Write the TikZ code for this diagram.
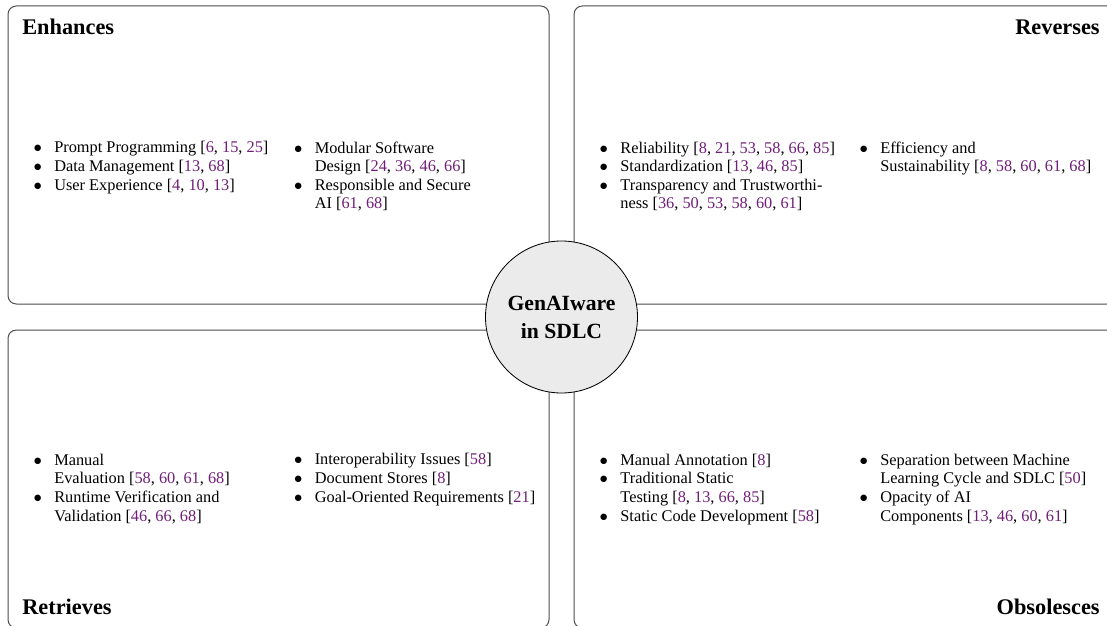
\documentclass[tikz,border=0pt]{standalone}
\usepackage{fontspec}
\setmainfont{Liberation Serif}
\usepackage{xcolor}
\usetikzlibrary{positioning}
\definecolor{citepurple}{RGB}{112,30,120}
\newcommand{\rf}[1]{\textcolor{citepurple}{#1}}
\newcommand{\itm}{\makebox[12.4pt][l]{$\bullet$}}
\newcommand{\cnt}{\hspace*{12.4pt}}

\begin{document}
\begin{tikzpicture}[x=0.6pt,y=-0.6pt,
    quad/.style={draw=black!70, line width=0.6pt, rounded corners=5pt},
    hub/.style={draw, circle, fill=black!8, line width=0.5pt, minimum size=91.2pt, inner sep=0pt, align=center, font=\fontsize{13}{16.8}\selectfont\bfseries},
    heading/.style={inner sep=0pt, font=\fontsize{13.4}{16}\selectfont\bfseries},
    items/.style={inner sep=0pt, align=left, anchor=base west, font=\fontsize{9.8}{11.2}\selectfont}]
        \useasboundingbox (0,0) rectangle (1107,626);
        \clip (0,0) rectangle (1107,626);
        % quadrants
        \draw[quad] (8,6) rectangle (549,304);
        \draw[quad] (574,6) rectangle (1115,304);
        \draw[quad] (8,330) rectangle (549,628);
        \draw[quad] (574,330) rectangle (1115,628);

        \node[heading, anchor=base west] (enh) at (22,35) {Enhances};
        \node[heading, anchor=base east] (rev) at (1100,35) {Reverses};
        \node[heading, anchor=base west] (ret) at (22,614) {Retrieves};
        \node[heading, anchor=base east] (obs) at (1100,614) {Obsolesces};

        % enhances (base = last line)
        \node[items] (enhA) at (33.3,190.3) {\itm Prompt Programming [\rf{6}, \rf{15}, \rf{25}]\\
            \itm Data Management [\rf{13}, \rf{68}]\\
            \itm User Experience [\rf{4}, \rf{10}, \rf{13}]};
        \node[items] (enhB) at (293.8,209) {\itm Modular Software\\
            \cnt Design [\rf{24}, \rf{36}, \rf{46}, \rf{66}]\\
            \itm Responsible and Secure\\
            \cnt AI [\rf{61}, \rf{68}]};

        % reverses
        \node[items] (revA) at (599.4,209) {\itm Reliability [\rf{8}, \rf{21}, \rf{53}, \rf{58}, \rf{66}, \rf{85}]\\
            \itm Standardization [\rf{13}, \rf{46}, \rf{85}]\\
            \itm Transparency and Trustworthi-\\
            \cnt ness [\rf{36}, \rf{50}, \rf{53}, \rf{58}, \rf{60}, \rf{61}]};
        \node[items] (revB) at (859.3,171.7) {\itm Efficiency and\\
            \cnt Sustainability [\rf{8}, \rf{58}, \rf{60}, \rf{61}, \rf{68}]};

        % retrieves
        \node[items] (retA) at (33.3,521) {\itm Manual\\
            \cnt Evaluation [\rf{58}, \rf{60}, \rf{61}, \rf{68}]\\
            \itm Runtime Verification and\\
            \cnt Validation [\rf{46}, \rf{66}, \rf{68}]};
        \node[items] (retB) at (293.8,502.3) {\itm Interoperability Issues [\rf{58}]\\
            \itm Document Stores [\rf{8}]\\
            \itm Goal-Oriented Requirements [\rf{21}]};

        % obsolesces
        \node[items] (obsA) at (599.4,521) {\itm Manual Annotation [\rf{8}]\\
            \itm Traditional Static\\
            \cnt Testing [\rf{8}, \rf{13}, \rf{66}, \rf{85}]\\
            \itm Static Code Development [\rf{58}]};
        \node[items] (obsB) at (859.3,521) {\itm Separation between Machine\\
            \cnt Learning Cycle and SDLC [\rf{50}]\\
            \itm Opacity of AI\\
            \cnt Components [\rf{13}, \rf{46}, \rf{60}, \rf{61}]};

        \node[hub] (hub) at (561.5,317) {GenAIware\\in SDLC};
\end{tikzpicture}
\end{document}
